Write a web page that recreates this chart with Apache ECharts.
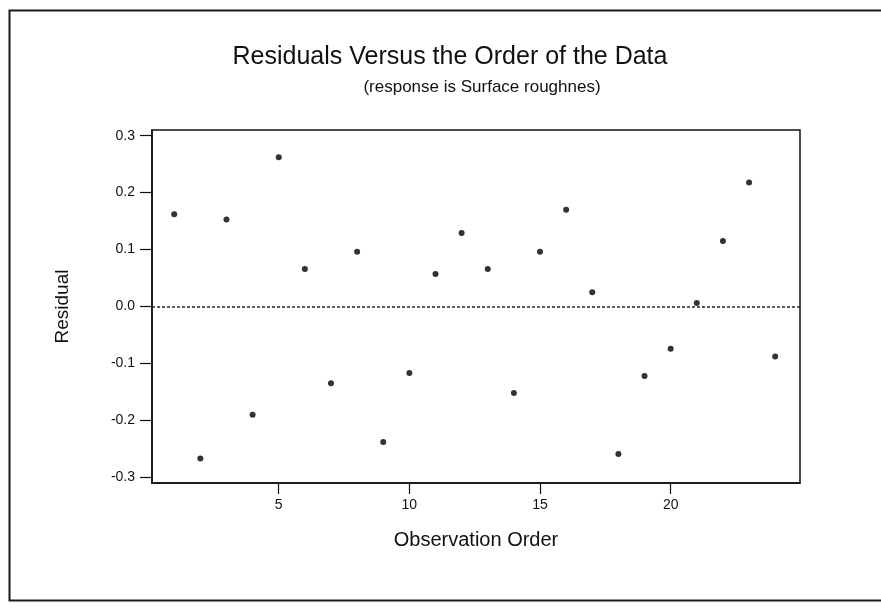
<!DOCTYPE html>
<html>
<head>
<meta charset="utf-8">
<script src="https://cdn.jsdelivr.net/npm/echarts@6/dist/echarts.min.js"></script>
<style>
html,body{margin:0;padding:0;background:#fff;}
#chart{width:881px;height:608px;}
</style>
</head>
<body>
<div id="chart"></div>
<script>
const titleText = 'Residuals Versus the Order of the Data';
const subtitleText = '(response is Surface roughnes)';
const xAxisName = 'Observation Order';
const yAxisName = 'Residual';

const observationOrder = [1,2,3,4,5,6,7,8,9,10,11,12,13,14,15,16,17,18,19,20,21,22,23,24];
const residuals = [0.162,-0.267,0.153,-0.190,0.262,0.066,-0.135,0.096,-0.238,-0.117,0.057,0.129,
                   0.066,-0.152,0.096,0.170,0.025,-0.259,-0.122,-0.074,0.006,0.115,0.218,-0.088];

const xTicks = [5,10,15,20];
const yTicks = [-0.3,-0.2,-0.1,0.0,0.1,0.2,0.3];
const referenceLine = 0;

const font = '"Liberation Sans", Arial, sans-serif';
const chart = echarts.init(document.getElementById('chart'));
chart.setOption({
  backgroundColor: '#ffffff',
  animation: false,
  graphic: [{
    type: 'rect', left: 7, top: 8,
    shape: {width: 900, height: 590},
    style: {fill: 'none', stroke: '#1a1a1a', lineWidth: 2}
  }],
  title: [{
    text: titleText, left: 445, top: 40, textAlign: 'center',
    textStyle: {fontFamily: font, fontSize: 25, fontWeight: 'normal', color: '#111'}
  },{
    text: subtitleText, left: 477, top: 74, textAlign: 'center',
    textStyle: {fontFamily: font, fontSize: 17, fontWeight: 'normal', color: '#111'}
  }],
  grid: {left: 152, right: 81, top: 130, bottom: 125, show: true, borderColor: '#111', borderWidth: 1.5, backgroundColor: 'transparent'},
  xAxis: {
    type: 'value', min: 0.15, max: 24.95,
    name: xAxisName, nameLocation: 'middle', nameGap: 47,
    nameTextStyle: {fontFamily: font, fontSize: 20, color: '#111'},
    axisLine: {show: true, onZero: false, lineStyle: {color: '#111', width: 1.5}},
    axisTick: {show: true, length: 11, customValues: xTicks, lineStyle: {color: '#111', width: 1.2}},
    axisLabel: {customValues: xTicks, fontFamily: font, fontSize: 14, color: '#111', margin: 15},
    splitLine: {show: false}
  },
  yAxis: {
    type: 'value', min: -0.31, max: 0.31,
    name: yAxisName, nameLocation: 'middle', nameGap: 80, nameRotate: 90,
    nameTextStyle: {fontFamily: font, fontSize: 19, color: '#111'},
    axisLine: {show: true, onZero: false, lineStyle: {color: '#111', width: 1.5}},
    axisTick: {show: true, length: 12, customValues: yTicks, lineStyle: {color: '#111', width: 1.2}},
    axisLabel: {customValues: yTicks, fontFamily: font, fontSize: 14, color: '#111', margin: 17,
      formatter: v => Number(v).toFixed(1)},
    splitLine: {show: false}
  },
  series: [{
    type: 'scatter',
    data: observationOrder.map((o, i) => [o, residuals[i]]),
    symbol: 'circle', symbolSize: 6,
    itemStyle: {color: '#000'},
    markLine: {
      silent: true, symbol: 'none', label: {show: false},
      lineStyle: {color: '#222', type: [3, 2], width: 1.5},
      data: [{yAxis: referenceLine}]
    }
  }]
});
</script>
</body>
</html>
